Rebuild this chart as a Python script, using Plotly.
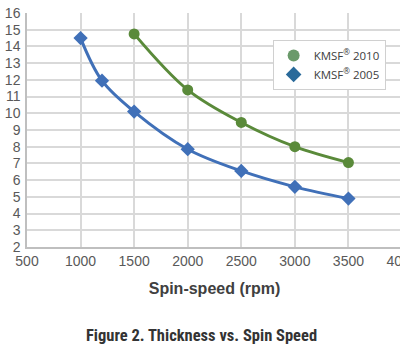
import plotly.graph_objects as go

x_2010 = [1500, 2000, 2500, 3000, 3500]
y_2010 = [14.75, 11.4, 9.45, 8.0, 7.05]
x_2005 = [1000, 1200, 1500, 2000, 2500, 3000, 3500]
y_2005 = [14.5, 11.95, 10.1, 7.85, 6.55, 5.6, 4.9]
x_ticks = [500, 1000, 1500, 2000, 2500, 3000, 3500, 4000]
y_ticks = list(range(2, 17))

green = "#5a8a3a"
blue = "#4070b8"

fig = go.Figure()
fig.add_trace(go.Scatter(
    x=x_2010, y=y_2010, mode="lines+markers", showlegend=False,
    line=dict(color=green, width=3, shape="spline", smoothing=1.0),
    marker=dict(symbol="circle", size=11, color=green),
))
fig.add_trace(go.Scatter(
    x=x_2005, y=y_2005, mode="lines+markers", showlegend=False,
    line=dict(color=blue, width=3, shape="spline", smoothing=1.0),
    marker=dict(symbol="diamond", size=11, color=blue),
))
fig.add_trace(go.Scatter(
    x=[None], y=[None], mode="markers", name="KMSF<sup>®</sup> 2010",
    marker=dict(symbol="circle", size=7, color="#6a9a6a"),
))
fig.add_trace(go.Scatter(
    x=[None], y=[None], mode="markers", name="KMSF<sup>®</sup> 2005",
    marker=dict(symbol="diamond", size=8, color="#2a6a9a"),
))

axis_font = dict(family="Liberation Sans, Arial, sans-serif", size=14, color="#595959")
fig.update_layout(
    width=404, height=352,
    margin=dict(l=27, r=2, t=13, b=105, autoexpand=False),
    paper_bgcolor="white", plot_bgcolor="white",
    showlegend=True,
    legend=dict(
        x=0.655, y=0.885, xanchor="left", yanchor="top",
        bgcolor="white", bordercolor="#d0d0d0", borderwidth=1,
        font=dict(family="Open Sans, sans-serif", size=11.5, color="#404040"),
        itemsizing="constant", tracegroupgap=0, itemwidth=30,
    ),
    xaxis=dict(
        range=[500, 4000], tickvals=x_ticks, ticktext=[str(v) for v in x_ticks],
        showgrid=True, gridcolor="#d9d9d9", gridwidth=1.5,
        showline=True, linecolor="#bfbfbf", linewidth=1.5,
        tickfont=axis_font, ticks="", zeroline=False, ticklabeloverflow="allow",
        automargin=False,
        title=dict(text="<b>Spin-speed (rpm)</b>", standoff=15,
                   font=dict(family="Liberation Sans, Arial, sans-serif", size=16, color="#404040")),
    ),
    yaxis=dict(
        range=[2, 16], tickvals=y_ticks, automargin=False,
        showgrid=True, gridcolor="#d9d9d9", gridwidth=1.5,
        showline=True, linecolor="#bfbfbf", linewidth=1.5,
        tickfont=axis_font, ticks="", zeroline=False, ticklabelstandoff=2,
    ),
    annotations=[dict(
        text="<b>Figure 2. Thickness vs. Spin Speed</b>",
        xref="paper", yref="paper", x=(201 - 27) / 375, y=-(335 - 247) / 234,
        xanchor="center", yanchor="middle", showarrow=False,
        font=dict(family="Liberation Sans Narrow, Roboto Condensed, Arial Narrow, sans-serif", size=16.5, color="#333333"),
    )],
)

fig.write_html("out.html", post_script="document.documentElement.style.overflow='hidden';document.body.style.overflow='hidden';")
